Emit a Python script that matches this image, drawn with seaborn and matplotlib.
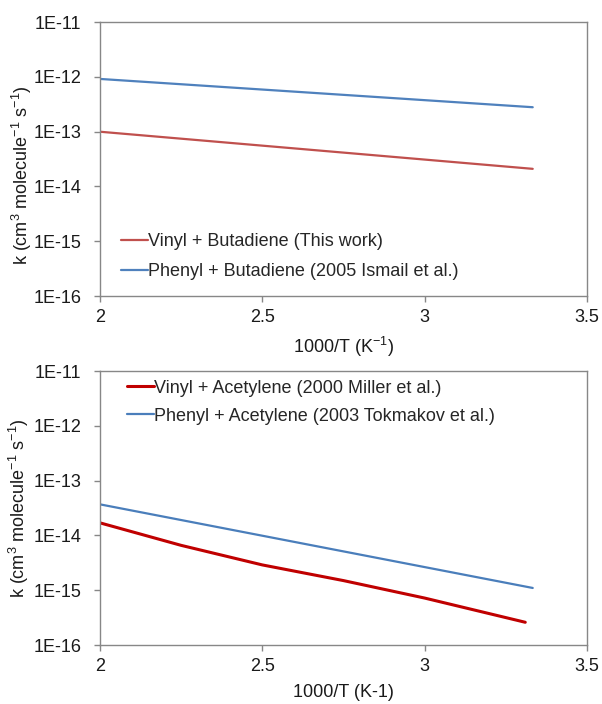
import numpy as np
import pandas as pd
import matplotlib
matplotlib.use("Agg")
import matplotlib.pyplot as plt
import seaborn as sns

# ---- data ----
x_top = [2.0, 3.333]
vinyl_butadiene = [1.0e-13, 2.1e-14]
phenyl_butadiene = [9.2e-13, 2.8e-13]

x_vinyl_acet = [2.0, 2.25, 2.5, 2.75, 3.0, 3.31]
vinyl_acetylene = [1.7e-14, 6.6e-15, 2.9e-15, 1.5e-15, 7.2e-16, 2.6e-16]
x_phenyl_acet = [2.0, 3.333]
phenyl_acetylene = [3.7e-14, 1.1e-15]

ytick_vals = [1e-16, 1e-15, 1e-14, 1e-13, 1e-12, 1e-11]
ytick_labels = ["1E-16", "1E-15", "1E-14", "1E-13", "1E-12", "1E-11"]
xtick_vals = [2, 2.5, 3, 3.5]
xtick_labels = ["2", "2.5", "3", "3.5"]

top_labels = ["Vinyl + Butadiene (This work)", "Phenyl + Butadiene (2005 Ismail et al.)"]
bot_labels = ["Vinyl + Acetylene (2000 Miller et al.)", "Phenyl + Acetylene (2003 Tokmakov et al.)"]

sns.set_style("white")
plt.rcParams["font.family"] = ["Liberation Sans", "DejaVu Sans"]
plt.rcParams["mathtext.fontset"] = "custom"
plt.rcParams["mathtext.rm"] = "Liberation Sans"
plt.rcParams["mathtext.it"] = "Liberation Sans"
plt.rcParams["mathtext.default"] = "regular"

FS = 13
TXT = "#1a1a1a"
SPINE = "#878787"

fig = plt.figure(figsize=(6.02, 7.04), dpi=100)
ax1 = fig.add_axes([0.166, 0.5795, 0.809, 0.389])
ax2 = fig.add_axes([0.166, 0.0838, 0.809, 0.389])

df_top = pd.DataFrame({
    "x": x_top + x_top,
    "k": vinyl_butadiene + phenyl_butadiene,
    "series": [top_labels[0]] * len(x_top) + [top_labels[1]] * len(x_top),
})
df_bot = pd.DataFrame({
    "x": x_vinyl_acet + x_phenyl_acet,
    "k": vinyl_acetylene + phenyl_acetylene,
    "series": [bot_labels[0]] * len(x_vinyl_acet) + [bot_labels[1]] * len(x_phenyl_acet),
})

sns.lineplot(data=df_top, x="x", y="k", hue="series", hue_order=top_labels,
             palette=["#C0504D", "#4F81BD"], linewidth=1.6, ax=ax1, legend=True)
sns.lineplot(data=df_bot, x="x", y="k", hue="series", hue_order=bot_labels,
             palette=["#C00000", "#4A7EBB"], size="series",
             sizes={bot_labels[0]: 2.2, bot_labels[1]: 1.6}, ax=ax2, legend=True)

for ax, xlabel in [(ax1, r"1000/T (K$^{-1}$)"), (ax2, "1000/T (K-1)")]:
    ax.set_yscale("log")
    ax.set_ylim(1e-16, 1e-11)
    ax.set_xlim(2, 3.5)
    ax.set_yticks(ytick_vals)
    ax.set_yticklabels(ytick_labels)
    ax.yaxis.set_minor_locator(matplotlib.ticker.NullLocator())
    ax.set_xticks(xtick_vals)
    ax.set_xticklabels(xtick_labels)
    ax.tick_params(axis="both", which="major", labelsize=FS, colors=SPINE,
                   labelcolor=TXT, direction="out", length=4.5, width=1,
                   left=True, bottom=True)
    ax.tick_params(axis="y", pad=9)
    ax.tick_params(axis="x", pad=5)
    for s in ax.spines.values():
        s.set_color(SPINE)
        s.set_linewidth(1.0)
    ax.set_xlabel(xlabel, fontsize=FS, color=TXT, labelpad=6)
    ax.set_ylabel(r"k (cm$^3$ molecule$^{-1}$ s$^{-1}$)", fontsize=FS, color=TXT)

ax1.yaxis.set_label_coords(-0.135, 0.44)
ax2.yaxis.set_label_coords(-0.142, 0.5)

h, l = ax1.get_legend_handles_labels()
ax1.legend(h, l, loc="lower left", bbox_to_anchor=(0.029, 0.031), frameon=False,
           fontsize=FS, handlelength=1.5, handletextpad=0.0, labelspacing=0.72,
           borderaxespad=0)
h2, l2 = ax2.get_legend_handles_labels()
ax2.legend(h2[-2:], bot_labels, loc="upper left",
           bbox_to_anchor=(0.04, 0.995), frameon=False,
           fontsize=FS, handlelength=1.5, handletextpad=0.0, labelspacing=0.6,
           borderaxespad=0)

fig.savefig("out.png", dpi=100)
